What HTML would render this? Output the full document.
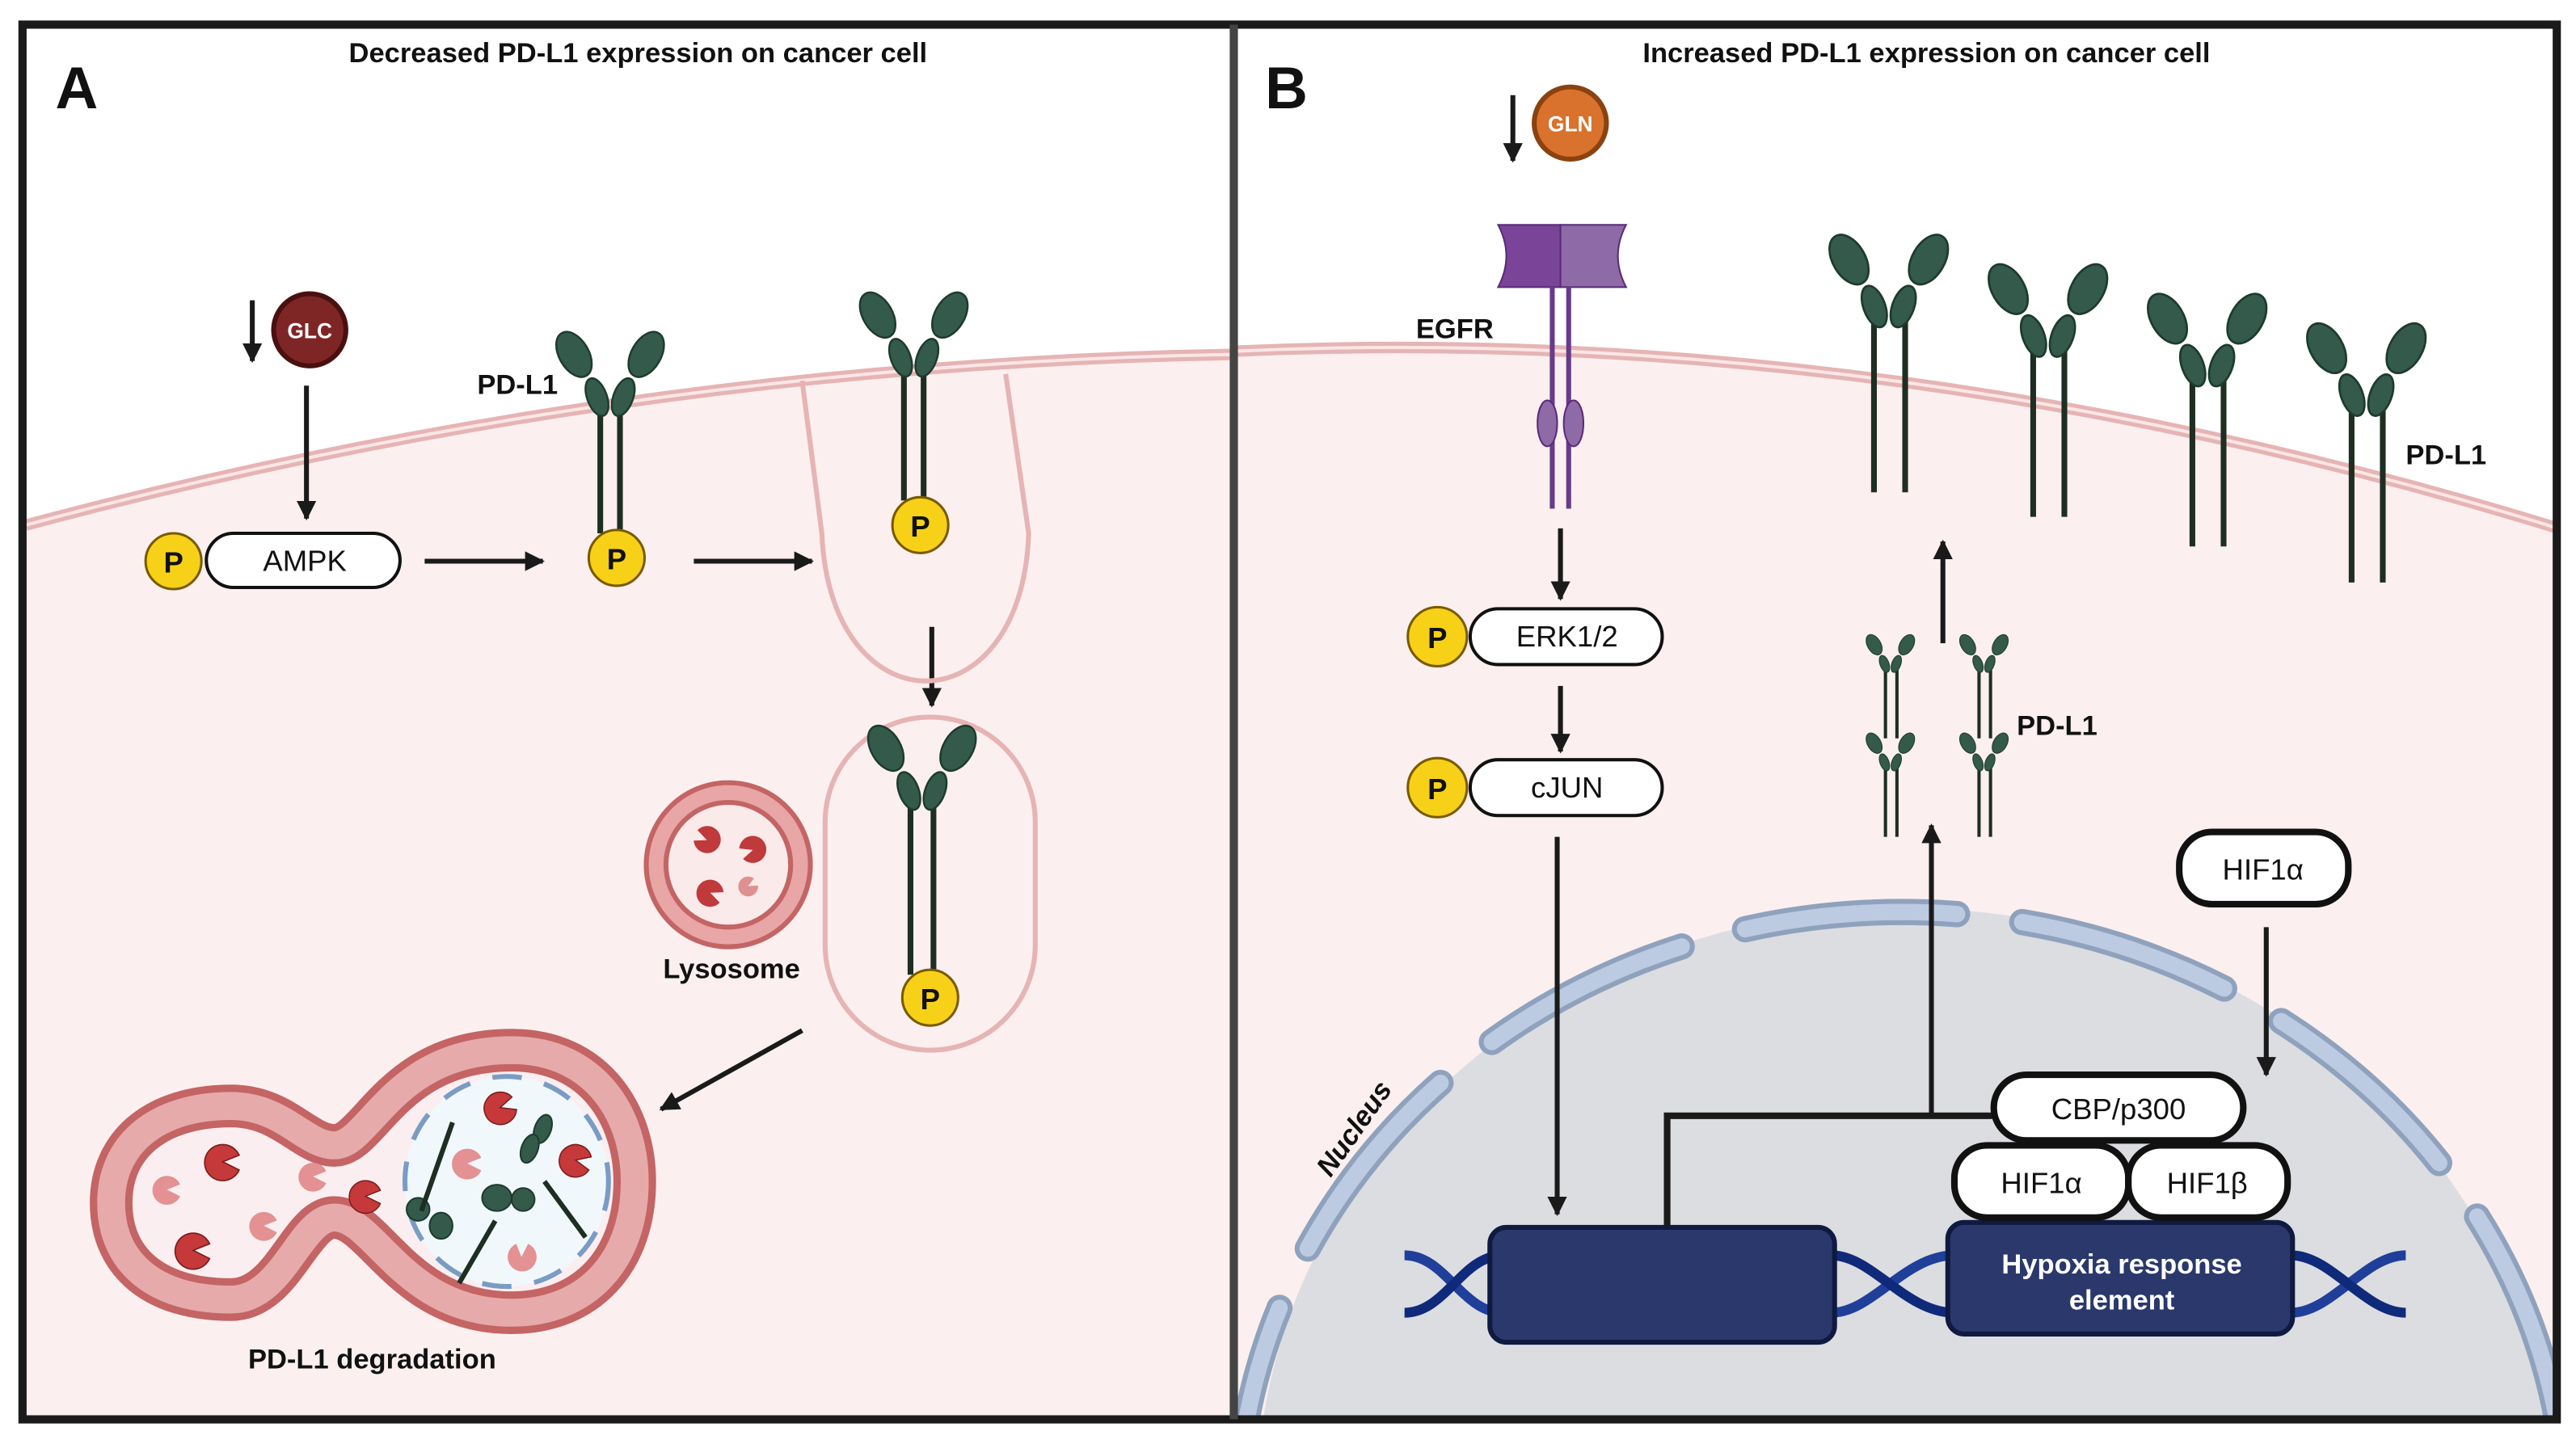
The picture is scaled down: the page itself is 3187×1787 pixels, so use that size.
<!DOCTYPE html>
<html><head><meta charset="utf-8"><style>
html,body{margin:0;padding:0;background:#fff;width:3187px;height:1787px;overflow:hidden}
svg{display:block}
text{font-family:"Liberation Sans",sans-serif}
</style></head><body>
<svg width="3187" height="1787" viewBox="0 0 1568 880" xmlns="http://www.w3.org/2000/svg" style="overflow:hidden">
<defs>
<marker id="ah" viewBox="0 0 10 10" refX="9" refY="5" markerWidth="4" markerHeight="4" orient="auto"><path d="M0,0L10,5L0,10z" fill="#1a1a1a"/></marker>
<g id="head">
<ellipse cx="-8" cy="-12" rx="6" ry="12" transform="rotate(-20 -8 -12)" fill="#335a4a" stroke="#1e3a2e" stroke-width="1.2"/>
<ellipse cx="8" cy="-12" rx="6" ry="12" transform="rotate(20 8 -12)" fill="#335a4a" stroke="#1e3a2e" stroke-width="1.2"/>
<ellipse cx="-22" cy="-38" rx="9" ry="15" transform="rotate(-30 -22 -38)" fill="#335a4a" stroke="#1e3a2e" stroke-width="1.2"/>
<ellipse cx="22" cy="-38" rx="9" ry="15" transform="rotate(30 22 -38)" fill="#335a4a" stroke="#1e3a2e" stroke-width="1.2"/>
</g>
<g id="pac"><path d="M0,0 L10,-4 A11,11 0 1 0 10,5 Z" /></g>
<clipPath id="cb"><rect x="752" y="0" width="806" height="864"/></clipPath>
</defs>
<rect width="1568" height="880" fill="#fff"/>
<!-- panel A cell -->
<path d="M15,320 Q380,222 750,216 L750,864 L15,864Z" fill="#fcefef"/>
<path d="M15,320 Q380,222 750,216" fill="none" stroke="#e6b4b4" stroke-width="7"/>
<path d="M15,320 Q380,222 750,216" fill="none" stroke="#fbe6e6" stroke-width="2"/>
<!-- panel B cell -->
<path d="M752,214 Q1150,196 1558,322 L1558,864 L752,864Z" fill="#fcefef"/>
<path d="M752,214 Q1150,196 1558,322" fill="none" stroke="#e6b4b4" stroke-width="7"/>
<path d="M752,214 Q1150,196 1558,322" fill="none" stroke="#fbe6e6" stroke-width="2"/>
<!-- nucleus -->
<g clip-path="url(#cb)">
<path d="M769,864 A395,362 0 0 1 1551,864 Z" fill="#dcdde1"/>
<path d="M759,864 A405,372 0 0 1 1557,864" fill="none" stroke="#8fa2bd" stroke-width="16" stroke-dasharray="130 40" stroke-dashoffset="60" stroke-linecap="round"/>
<path d="M759,864 A405,372 0 0 1 1557,864" fill="none" stroke="#bccbe2" stroke-width="10" stroke-dasharray="130 40" stroke-dashoffset="60" stroke-linecap="round"/>
</g>
<!-- frame -->
<rect x="13" y="15" width="1544" height="850" fill="none" stroke="#1a1a1a" stroke-width="5"/>
<line x1="751" y1="15" x2="751" y2="865" stroke="#444" stroke-width="5"/>
<!-- titles -->
<text x="388" y="38" font-size="17" font-weight="bold" text-anchor="middle" fill="#111">Decreased PD-L1 expression on cancer cell</text>
<text x="1173" y="38" font-size="17" font-weight="bold" text-anchor="middle" fill="#111">Increased PD-L1 expression on cancer cell</text>
<text x="33" y="66" font-size="36" font-weight="bold" fill="#111">A</text>
<text x="770" y="66" font-size="36" font-weight="bold" fill="#111">B</text>

<g stroke="#1a1a1a" stroke-width="3" marker-end="url(#ah)" fill="none">
<line x1="153" y1="183" x2="153" y2="220"/>
<line x1="186" y1="235" x2="186" y2="316"/>
<line x1="258" y1="342" x2="330" y2="342"/>
<line x1="422" y1="342" x2="494" y2="342"/>
<line x1="567" y1="382" x2="567" y2="430"/>
<line x1="488" y1="628" x2="402" y2="676"/>
<line x1="921" y1="58" x2="921" y2="98"/>
<line x1="950" y1="322" x2="950" y2="365"/>
<line x1="950" y1="418" x2="950" y2="458"/>
<line x1="948" y1="510" x2="948" y2="740"/>
<line x1="1380" y1="565" x2="1380" y2="655"/>
<line x1="1183" y1="392" x2="1183" y2="330"/>
<line x1="1176" y1="680" x2="1176" y2="503"/>
</g>
<polyline points="1213,680 1015,680 1015,748" fill="none" stroke="#1a1a1a" stroke-width="4"/>

<!-- GLC -->
<circle cx="188" cy="201" r="22" fill="#7e2626" stroke="#4a1010" stroke-width="3"/>
<text x="188" y="206" font-size="13" font-weight="bold" fill="#fff" text-anchor="middle">GLC</text>
<!-- AMPK -->
<rect x="125" y="325" width="118" height="33" rx="16.5" fill="#fff" stroke="#111" stroke-width="2"/>
<text x="185" y="348" font-size="18" text-anchor="middle" fill="#111">AMPK</text>
<!-- invagination -->
<path d="M488,232 L500,325 C505,445 622,445 626,325 L612,228" fill="none" stroke="#e6b4b4" stroke-width="3"/>
<g stroke="#1e2e22" stroke-width="3.5"><line x1="550" y1="228" x2="550" y2="305"/><line x1="562" y1="228" x2="562" y2="305"/></g>
<use href="#head" transform="translate(556,230)"/>
<!-- PD-L1 A1 -->
<g stroke="#1e2e22" stroke-width="3.5"><line x1="365" y1="252" x2="365" y2="325"/><line x1="377" y1="252" x2="377" y2="325"/></g>
<use href="#head" transform="translate(371,254)"/>
<text x="290" y="240" font-size="17" font-weight="bold" fill="#111">PD-L1</text>
<!-- vesicle -->
<rect x="502" y="437" width="128" height="203" rx="64" fill="none" stroke="#e6b4b4" stroke-width="3"/>
<g stroke="#1e2e22" stroke-width="3.5"><line x1="554" y1="492" x2="554" y2="594"/><line x1="568" y1="492" x2="568" y2="594"/></g>
<use href="#head" transform="translate(561,494)"/>
<g fill="#f7d117" stroke="#7a5a00" stroke-width="1.5">
<circle cx="105" cy="342" r="17"/><circle cx="375" cy="340" r="17"/><circle cx="560" cy="320" r="17"/><circle cx="566" cy="608" r="17"/>
<circle cx="875" cy="388" r="18"/><circle cx="875" cy="480" r="18"/>
</g>
<g font-size="18" font-weight="bold" text-anchor="middle" fill="#111">
<text x="105" y="349">P</text><text x="375" y="347">P</text><text x="560" y="327">P</text><text x="566" y="615">P</text>
<text x="875" y="395">P</text><text x="875" y="487">P</text>
</g>
<!-- lysosome -->
<circle cx="443" cy="527" r="50" fill="#e8a6a6" stroke="#c46464" stroke-width="3"/>
<circle cx="443" cy="527" r="38" fill="#fbeaea" stroke="#c46464" stroke-width="3"/>
<g fill="#c0393b"><use href="#pac" transform="translate(430,512) rotate(200) scale(0.75)"/><use href="#pac" transform="translate(458,518) rotate(160) scale(0.75)"/><use href="#pac" transform="translate(432,544) rotate(20) scale(0.75)"/></g>
<g fill="#e09090"><use href="#pac" transform="translate(455,540) rotate(-30) scale(0.55)"/></g>
<text x="445" y="596" font-size="17" font-weight="bold" text-anchor="middle" fill="#111">Lysosome</text>
<!-- degradation blob -->
<g>
<path d="M203,698 C225,698 238,640 311,640 C362,640 386,680 386,720 C386,768 357,800 311,800 C245,800 228,742 203,742 C182,742 172,792 140,792 C92,792 67,768 67,733 C67,697 95,674 140,674 C172,674 185,698 203,698Z" fill="#fbeef0" stroke="#c46464" stroke-width="26"/>
<path d="M203,698 C225,698 238,640 311,640 C362,640 386,680 386,720 C386,768 357,800 311,800 C245,800 228,742 203,742 C182,742 172,792 140,792 C92,792 67,768 67,733 C67,697 95,674 140,674 C172,674 185,698 203,698Z" fill="none" stroke="#e6aaaa" stroke-width="17"/>
<ellipse cx="308" cy="720" rx="62" ry="64" fill="#f1f8fb" stroke="#7a9cc4" stroke-width="3" stroke-dasharray="18 14"/>
<g fill="#c5393b" stroke="#7a1a1a" stroke-width="0.8"><use href="#pac" transform="translate(135,708)"/><use href="#pac" transform="translate(117,762)"/><use href="#pac" transform="translate(222,729) scale(0.9)"/><use href="#pac" transform="translate(304,675) rotate(-20) scale(0.9)"/><use href="#pac" transform="translate(350,707) rotate(10) scale(0.9)"/></g>
<g fill="#e39192"><use href="#pac" transform="translate(101,725) scale(0.8)"/><use href="#pac" transform="translate(190,717) scale(0.8)"/><use href="#pac" transform="translate(160,747) scale(0.8)"/><use href="#pac" transform="translate(284,709) scale(0.85)"/><use href="#pac" transform="translate(317,766) rotate(-90) scale(0.8)"/></g>
<g fill="#335a4a" stroke="#1e3a2e"><ellipse cx="330" cy="688" rx="5" ry="9" transform="rotate(20 330 688)"/><ellipse cx="322" cy="700" rx="5" ry="9" transform="rotate(20 322 700)"/>
<ellipse cx="302" cy="730" rx="9" ry="8"/><ellipse cx="318" cy="731" rx="7" ry="7"/><ellipse cx="254" cy="737" rx="7" ry="7"/><ellipse cx="268" cy="747" rx="7" ry="8"/></g>
<g stroke="#1e2e22" stroke-width="3"><line x1="275" y1="684" x2="256" y2="738"/><line x1="331" y1="720" x2="356" y2="754"/><line x1="301" y1="744" x2="279" y2="782"/></g>
<text x="226" y="834" font-size="17" font-weight="bold" text-anchor="middle" fill="#111">PD-L1 degradation</text>
</g>

<!-- GLN -->
<circle cx="956" cy="75" r="22" fill="#d8722c" stroke="#8a4210" stroke-width="3"/>
<text x="956" y="80" font-size="13" font-weight="bold" fill="#fff" text-anchor="middle">GLN</text>
<!-- EGFR -->
<path d="M912,137 L950,137 L950,175 L912,175 Q922,156 912,137Z" fill="#7a4598" stroke="#5a2a78" stroke-width="1"/>
<path d="M950,137 L990,137 Q980,156 990,175 L950,175Z" fill="#8e6aa6" stroke="#5a2a78" stroke-width="1"/>
<g stroke="#6a3a8a" stroke-width="3"><line x1="945" y1="175" x2="945" y2="310"/><line x1="955" y1="175" x2="955" y2="310"/></g>
<g fill="#8e6aa6" stroke="#5a2a78"><ellipse cx="942" cy="258" rx="6" ry="14"/><ellipse cx="958" cy="258" rx="6" ry="14"/></g>
<text x="862" y="206" font-size="17" font-weight="bold" fill="#111">EGFR</text>
<!-- ERK / cJUN -->
<rect x="895" y="371" width="117" height="34" rx="17" fill="#fff" stroke="#111" stroke-width="2"/>
<text x="954" y="394" font-size="18" text-anchor="middle" fill="#111">ERK1/2</text>
<rect x="895" y="463" width="117" height="34" rx="17" fill="#fff" stroke="#111" stroke-width="2"/>
<text x="954" y="486" font-size="18" text-anchor="middle" fill="#111">cJUN</text>
<!-- surface PD-L1 B -->
<g stroke="#1e2e22" stroke-width="3.5">
<line x1="1141" y1="190" x2="1141" y2="300"/><line x1="1160" y1="190" x2="1160" y2="300"/>
<line x1="1238" y1="208" x2="1238" y2="315"/><line x1="1257" y1="208" x2="1257" y2="315"/>
<line x1="1335" y1="226" x2="1335" y2="333"/><line x1="1354" y1="226" x2="1354" y2="333"/>
<line x1="1432" y1="244" x2="1432" y2="355"/><line x1="1451" y1="244" x2="1451" y2="355"/>
</g>
<use href="#head" transform="translate(1150,200) scale(1.1)"/>
<use href="#head" transform="translate(1247,218) scale(1.1)"/>
<use href="#head" transform="translate(1344,236) scale(1.1)"/>
<use href="#head" transform="translate(1441,254) scale(1.1)"/>
<text x="1465" y="283" font-size="17" font-weight="bold" fill="#111">PD-L1</text>
<!-- small PD-L1 -->
<g stroke="#1e2e22" stroke-width="2">
<line x1="1148" y1="408" x2="1148" y2="450"/><line x1="1155" y1="408" x2="1155" y2="450"/>
<line x1="1205" y1="408" x2="1205" y2="450"/><line x1="1212" y1="408" x2="1212" y2="450"/>
<line x1="1148" y1="468" x2="1148" y2="510"/><line x1="1155" y1="468" x2="1155" y2="510"/>
<line x1="1205" y1="468" x2="1205" y2="510"/><line x1="1212" y1="468" x2="1212" y2="510"/>
</g>
<use href="#head" transform="translate(1151,410) scale(0.45)"/>
<use href="#head" transform="translate(1208,410) scale(0.45)"/>
<use href="#head" transform="translate(1151,470) scale(0.45)"/>
<use href="#head" transform="translate(1208,470) scale(0.45)"/>
<text x="1228" y="448" font-size="17" font-weight="bold" fill="#111">PD-L1</text>
<!-- HIF1a top -->
<rect x="1327" y="507" width="103" height="44" rx="20" fill="#fff" stroke="#111" stroke-width="4"/>
<text x="1378" y="536" font-size="18" text-anchor="middle" fill="#111">HIF1α</text>
<!-- DNA -->
<g fill="none" stroke-width="6">
<path d="M855,765 C880,765 890,800 915,800 M1115,800 C1140,800 1160,765 1190,765 M1395,800 C1420,800 1440,765 1465,765" stroke="#1f3f9a"/>
<path d="M855,800 C880,800 890,765 915,765 M1115,765 C1140,765 1160,800 1190,800 M1395,765 C1420,765 1440,800 1465,800" stroke="#0f2a7a"/>
</g>
<rect x="907" y="748" width="210" height="70" rx="10" fill="#2a386c" stroke="#0f1a40" stroke-width="3"/>
<rect x="1186" y="745" width="210" height="68" rx="10" fill="#2a386c" stroke="#0f1a40" stroke-width="3"/>
<text x="1292" y="776" font-size="17" font-weight="bold" text-anchor="middle" fill="#fff">Hypoxia response</text>
<text x="1292" y="798" font-size="17" font-weight="bold" text-anchor="middle" fill="#fff">element</text>
<rect x="1190" y="698" width="106" height="44" rx="20" fill="#fff" stroke="#111" stroke-width="4"/>
<text x="1243" y="727" font-size="18" text-anchor="middle" fill="#111">HIF1α</text>
<rect x="1296" y="698" width="97" height="44" rx="20" fill="#fff" stroke="#111" stroke-width="4"/>
<text x="1344" y="727" font-size="18" text-anchor="middle" fill="#111">HIF1β</text>
<rect x="1214" y="655" width="152" height="40" rx="20" fill="#fff" stroke="#111" stroke-width="4"/>
<text x="1290" y="682" font-size="18" text-anchor="middle" fill="#111">CBP/p300</text>
<text x="0" y="0" font-size="17" font-weight="bold" font-style="italic" fill="#111" transform="translate(810,718) rotate(-55)">Nucleus</text>
</svg>
</body></html>
